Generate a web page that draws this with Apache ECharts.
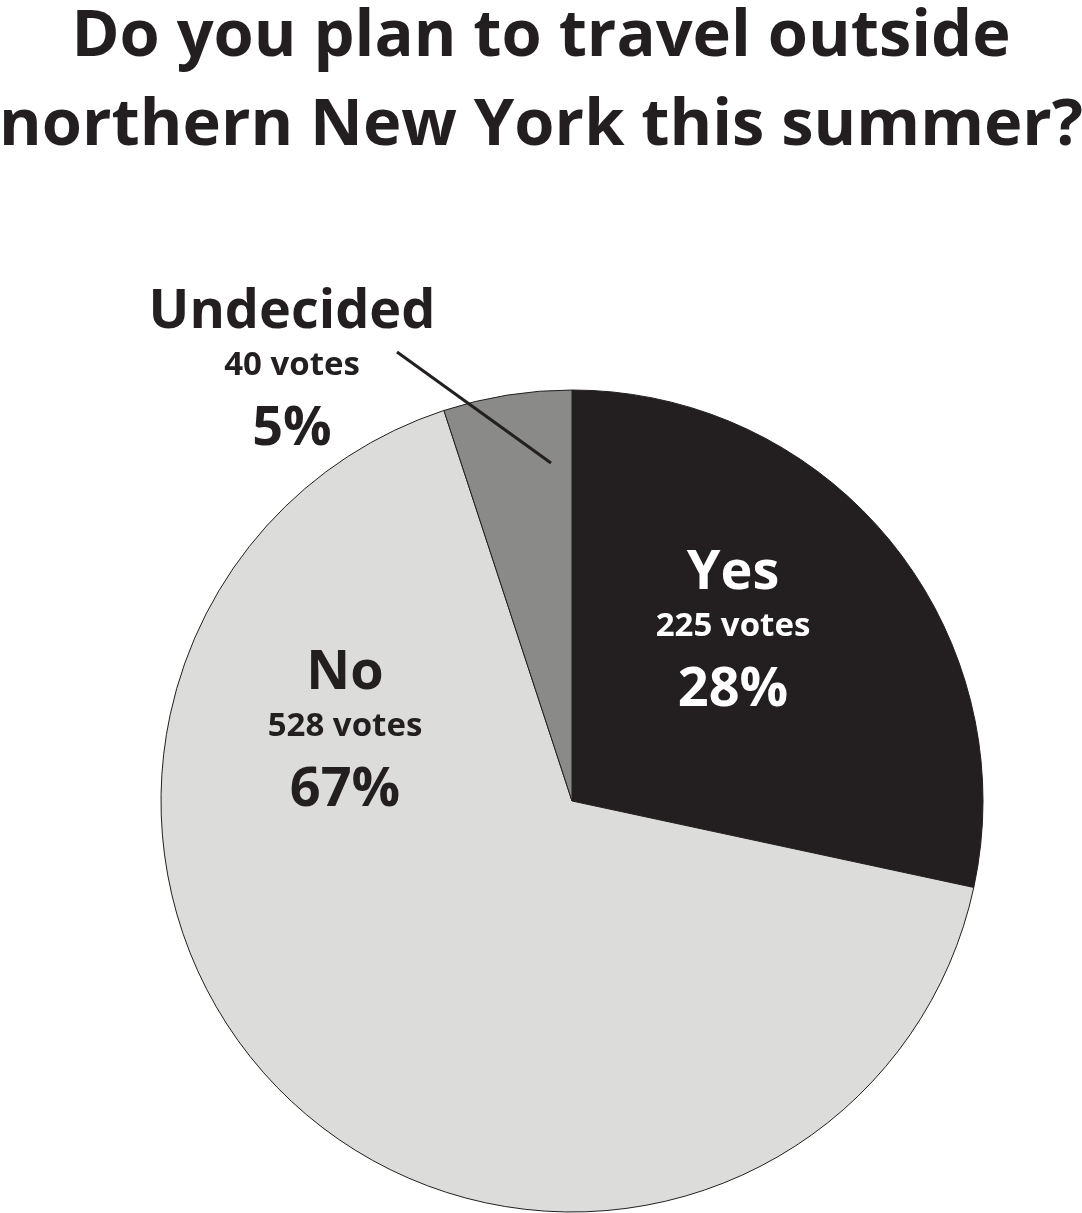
<!DOCTYPE html>
<html><head><meta charset="utf-8">
<script src="https://cdn.jsdelivr.net/npm/echarts@6/dist/echarts.min.js"></script>
<style>html,body{margin:0;padding:0;background:#fff}#c{width:1082px;height:1213px}</style>
</head><body><div id="c"></div>
<script>
const titleLines = ['Do you plan to travel outside', 'northern New York this summer?'];
const categories = ['Yes', 'No', 'Undecided'];
const votes = [225, 528, 40];
const sliceColors = ['#231f20', '#dcdcdb', '#8a8a89'];
const labelColors = ['#ffffff', '#231f20', '#231f20'];

const FONT = '"Open Sans", sans-serif';
const CX = 572, CY = 801, R = 411;
// label anchors relative to pie centre
const labelOffsets = [[161, -163], [-227, -63], [-280, -424]];
const leaderLine = [[-21, -338], [-175, -449]];

const baseSeries = {
  type: 'pie',
  center: [CX, CY],
  radius: R,
  startAngle: 90,
  clockwise: true,
  avoidLabelOverlap: false,
  silent: true,
  emphasis: {disabled: true}
};

const chart = echarts.init(document.getElementById('c'), null, {renderer: 'canvas'});
chart.setOption({
  animation: false,
  backgroundColor: '#ffffff',
  title: {
    text: titleLines.join('\n'),
    left: 'center',
    top: -7,
    padding: 0,
    textStyle: {fontFamily: FONT, fontWeight: 700, fontSize: 65, lineHeight: 89, color: '#231f20'}
  },
  series: [
    Object.assign({}, baseSeries, {
      z: 2,
      itemStyle: {borderColor: '#231f20', borderWidth: 1},
      label: {show: false},
      labelLine: {show: false},
      data: categories.map((c, i) => ({name: c, value: votes[i], itemStyle: {color: sliceColors[i]}}))
    }),
    Object.assign({}, baseSeries, {
      z: 5,
      itemStyle: {color: 'rgba(0,0,0,0)', borderWidth: 0},
      data: categories.map((c, i) => ({
        name: c,
        value: votes[i],
        label: {position: i === 2 ? 'outside' : 'inside', color: labelColors[i]},
        labelLine: {show: i === 2, lineStyle: {color: '#231f20', width: 3}}
      })),
      label: {
        show: true,
        align: 'center',
        formatter: p => '{n|' + p.name + '}\n{v|' + p.value + ' votes}\n{p|' + Math.round(p.percent) + '%}',
        rich: {
          n: {fontFamily: FONT, fontWeight: 700, fontSize: 54, lineHeight: 66, align: 'center'},
          v: {fontFamily: FONT, fontWeight: 700, fontSize: 33, lineHeight: 40, align: 'center'},
          p: {fontFamily: FONT, fontWeight: 700, fontSize: 54, lineHeight: 88, align: 'center'}
        }
      },
      labelLayout: function (params) {
        const o = labelOffsets[params.dataIndex];
        const res = {x: CX + o[0], y: CY + o[1], align: 'center', verticalAlign: 'middle'};
        if (params.dataIndex === 2) {
          res.labelLinePoints = [
            [CX + leaderLine[0][0], CY + leaderLine[0][1]],
            [CX + (leaderLine[0][0] + leaderLine[1][0]) / 2, CY + (leaderLine[0][1] + leaderLine[1][1]) / 2],
            [CX + leaderLine[1][0], CY + leaderLine[1][1]]
          ];
        }
        return res;
      }
    })
  ]
});
</script></body></html>
